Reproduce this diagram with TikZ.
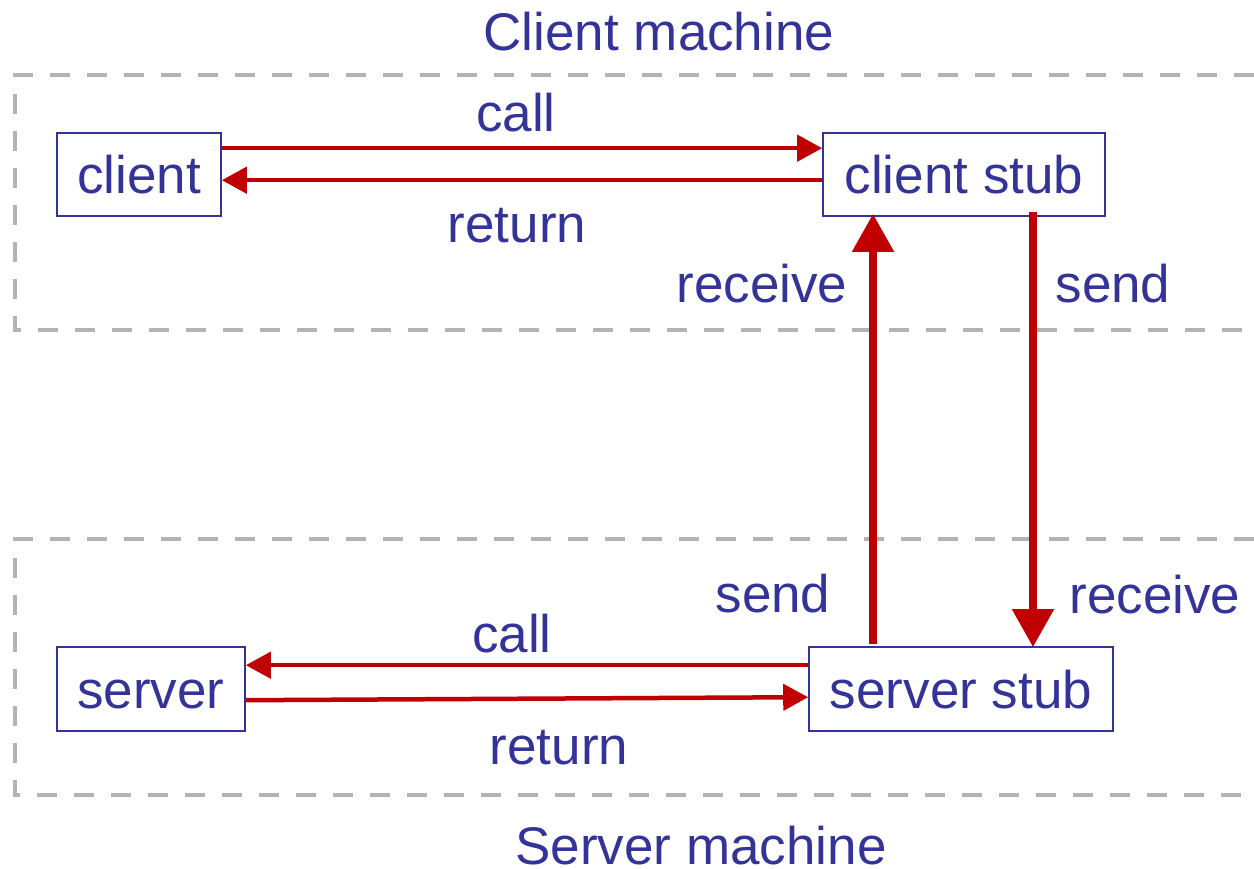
\documentclass[tikz,border=0pt]{standalone}
\usepackage{fontspec}
\setmainfont{Liberation Sans}
\usetikzlibrary{arrows.meta}
\definecolor{txtblue}{HTML}{333399}
\definecolor{arrred}{HTML}{C00000}
\definecolor{dashgray}{HTML}{B3B3B3}
\tikzset{
  machine/.style={draw=dashgray, line width=4pt, dash pattern=on 20pt off 17pt},
  procbox/.style={draw=txtblue, line width=1.6pt, inner sep=0pt, text height=39pt, text depth=0pt, text=txtblue, font=\fontsize{53}{60}\selectfont},
  lbl/.style={anchor=base, text=txtblue, inner sep=0pt, font=\fontsize{53}{60}\selectfont},
  thinarr/.style={draw=arrred, line width=4.5pt, -{Triangle[length=25pt,width=26pt]}},
  thickarr/.style={draw=arrred, line width=8pt, -{Triangle[length=38pt,width=40pt]}},
}
\begin{document}
\begin{tikzpicture}[x=1pt,y=-1pt]
\useasboundingbox (0,0) rectangle (1254,869);
% machine boxes
\draw[machine] (1254,75) -- (15,75) -- (15,330) -- (1254,330);
\draw[machine] (1254,539) -- (15,539) -- (15,795) -- (1254,795);
% process boxes
\node[procbox, minimum width=164pt, minimum height=83pt] (client) at (139,174.5) {client};
\node[procbox, minimum width=282pt, minimum height=83pt] (cstub) at (964,174.5) {client stub};
\node[procbox, minimum width=188pt, minimum height=84pt] (server) at (151,689) {server};
\node[procbox, minimum width=304pt, minimum height=84pt] (sstub) at (961,689) {server stub};
% client side arrows
\draw[thinarr] ([yshift=-16pt]client.north east) -- ([yshift=-16pt]cstub.north west);
\draw[thinarr] ([yshift=-48pt]cstub.north west) -- ([yshift=-48pt]client.north east);
% vertical arrows
\draw[thickarr] ([xshift=-88pt,yshift=2pt]sstub.north) -- ([xshift=-91pt,yshift=3pt]cstub.south);
\draw[thickarr] ([xshift=69pt,yshift=5pt]cstub.south) -- ([xshift=72pt,yshift=-1pt]sstub.north);
% server side arrows
\draw[thinarr] ([yshift=-19pt]sstub.north west) -- ([yshift=-19pt]server.north east);
\draw[thinarr] ([yshift=-54pt]server.north east) -- ([yshift=-51pt]sstub.north west);
% labels
\node[lbl] (tclient) at (659,51) {Client machine};
\node[lbl] (tserver) at (701,864) {Server machine};
\node[lbl] (lcall1) at (516,132) {call};
\node[lbl] (lret1) at (517,243) {return};
\node[lbl] (lrec1) at (762,303) {receive};
\node[lbl] (lsend1) at (1113,303) {send};
\node[lbl] (lsend2) at (773,612) {send};
\node[lbl] (lrec2) at (1155,613) {receive};
\node[lbl] (lcall2) at (512,652) {call};
\node[lbl] (lret2) at (559,764) {return};
\end{tikzpicture}
\end{document}
